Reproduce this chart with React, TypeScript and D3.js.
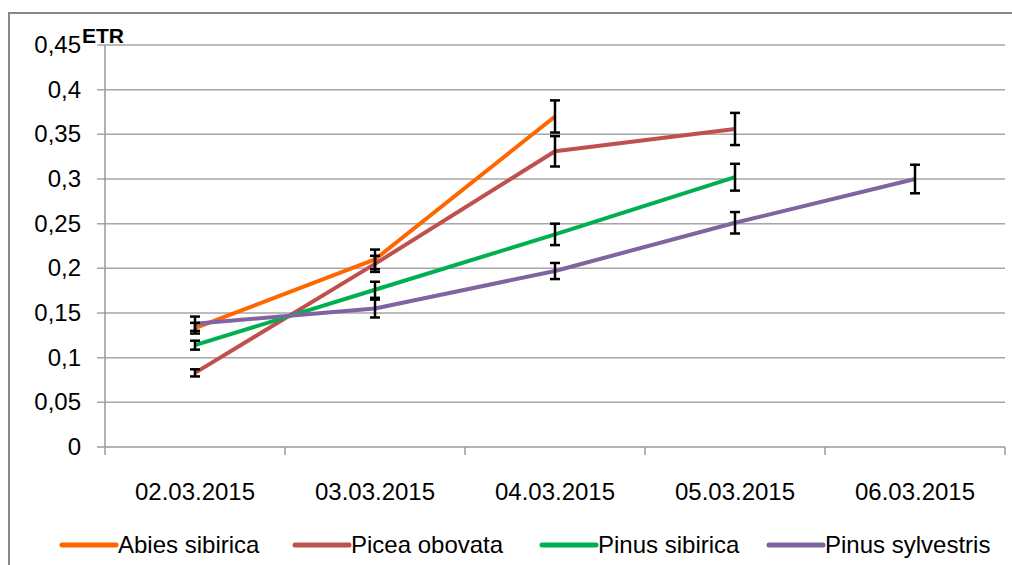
import React from 'react';
import * as d3 from 'd3';

const categories = ['02.03.2015', '03.03.2015', '04.03.2015', '05.03.2015', '06.03.2015'];
const yTicks = [0, 0.05, 0.1, 0.15, 0.2, 0.25, 0.3, 0.35, 0.4, 0.45];

const seriesNames = ['Abies sibirica', 'Picea obovata', 'Pinus sibirica', 'Pinus sylvestris'];
const seriesColors = ['#FF6600', '#C0504D', '#00B050', '#8064A2'];

const abiesValues = [0.133, 0.21, 0.37, null, null];
const abiesErrors = [0.006, 0.011, 0.018, null, null];
const piceaValues = [0.083, 0.205, 0.331, 0.356, null];
const piceaErrors = [0.004, 0.009, 0.017, 0.018, null];
const pinusSibValues = [0.114, 0.176, 0.238, 0.302, null];
const pinusSibErrors = [0.005, 0.009, 0.012, 0.015, null];
const pinusSylValues = [0.138, 0.155, 0.197, 0.251, 0.3];
const pinusSylErrors = [0.008, 0.01, 0.009, 0.012, 0.016];

const allValues = [abiesValues, piceaValues, pinusSibValues, pinusSylValues];
const allErrors = [abiesErrors, piceaErrors, pinusSibErrors, pinusSylErrors];

const W = 1012;
const H = 565;
const left = 105;
const right = 1005;
const top = 45;
const bottom = 447;
const FONT = "'Liberation Sans Narrow', 'Arial Narrow', 'Liberation Sans', sans-serif";

export default function App() {
  const x = d3.scaleBand<string>().domain(categories).range([left, right]);
  const y = d3.scaleLinear().domain([0, 0.45]).range([bottom, top]);
  const cx = (i: number) => (x(categories[i]) as number) + x.bandwidth() / 2;

  const line = d3
    .line<number | null>()
    .defined((d) => d !== null)
    .x((_, i) => cx(i))
    .y((d) => y(d as number));

  const fmt = (v: number) => String(Math.round(v * 100) / 100).replace('.', ',');
  const boundaries = [...categories.map((c) => x(c) as number), right];

  const legendX = [62, 295, 542, 769];

  return (
    <svg width={W} height={H} style={{ position: 'absolute', left: 0, top: 0, background: '#fff' }}>
      <rect x={0} y={0} width={W} height={H} fill="#fff" />
      <rect x={9} y={13} width={W + 20} height={H + 20} fill="none" stroke="#878787" strokeWidth={2} />
      {/* gridlines */}
      {yTicks.map((t) => (
        <line key={t} x1={left - 8} x2={right} y1={y(t)} y2={y(t)} stroke={t === 0 ? '#9a9a9a' : '#a6a6a6'} strokeWidth={1.5} />
      ))}
      {/* y axis */}
      <line x1={left} x2={left} y1={top} y2={bottom} stroke="#9a9a9a" strokeWidth={1.5} />
      {/* x ticks */}
      {boundaries.map((b, i) => (
        <line key={i} x1={b} x2={b} y1={bottom} y2={bottom + 8} stroke="#9a9a9a" strokeWidth={1.5} />
      ))}
      {/* y labels */}
      {yTicks.map((t) => (
        <text key={t} x={81} y={y(t) + 8} textAnchor="end" fontFamily={FONT} fontSize={24} fill="#000">
          {fmt(t)}
        </text>
      ))}
      <text x={82} y={43} fontFamily={FONT} fontSize={21} fontWeight="bold" fill="#000">
        ETR
      </text>
      {/* x labels */}
      {categories.map((c, i) => (
        <text key={c} x={cx(i)} y={500} textAnchor="middle" fontFamily={FONT} fontSize={24} fill="#000">
          {c}
        </text>
      ))}
      {/* lines */}
      {allValues.map((vals, s) => (
        <path key={s} d={line(vals) || ''} fill="none" stroke={seriesColors[s]} strokeWidth={4} strokeLinejoin="round" />
      ))}
      {/* error bars */}
      {allValues.map((vals, s) =>
        vals.map((v, i) => {
          const e = allErrors[s][i];
          if (v === null || e === null) return null;
          const x0 = cx(i);
          const y1 = y(v + e);
          const y2 = y(v - e);
          return (
            <g key={`${s}-${i}`} stroke="#000" strokeWidth={2.5}>
              <line x1={x0} x2={x0} y1={y1} y2={y2} />
              <line x1={x0 - 5} x2={x0 + 5} y1={y1} y2={y1} />
              <line x1={x0 - 5} x2={x0 + 5} y1={y2} y2={y2} />
            </g>
          );
        })
      )}
      {/* legend */}
      {seriesNames.map((n, s) => (
        <g key={n}>
          <line x1={legendX[s]} x2={legendX[s] + 54} y1={545} y2={545} stroke={seriesColors[s]} strokeWidth={5} strokeLinecap="round" />
          <text x={legendX[s] + 56} y={553} fontFamily={FONT} fontSize={24} fill="#000">
            {n}
          </text>
        </g>
      ))}
    </svg>
  );
}
